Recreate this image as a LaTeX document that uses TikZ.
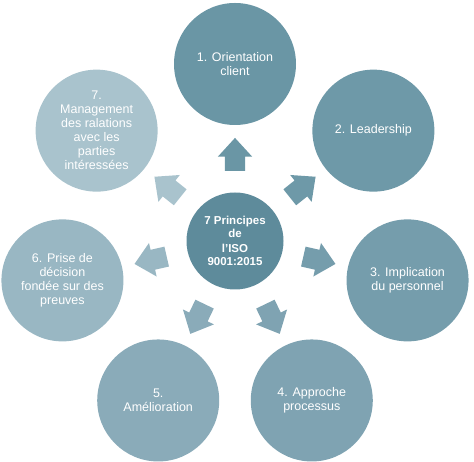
\documentclass[tikz,border=0pt]{standalone}
\usepackage{fontspec}
\setmainfont{Liberation Sans}
\usetikzlibrary{shapes.arrows}
\definecolor{c0}{HTML}{5E8B9B}
\definecolor{c1}{HTML}{6A96A5}
\definecolor{c2}{HTML}{6E99A8}
\definecolor{c3}{HTML}{759DAC}
\definecolor{c4}{HTML}{7FA3B2}
\definecolor{c5}{HTML}{8AABB9}
\definecolor{c6}{HTML}{99B7C3}
\definecolor{c7}{HTML}{A9C3CD}
\begin{document}
\begin{tikzpicture}[x=1pt,y=1pt,
  principle/.style={circle, minimum size=122pt, inner sep=0pt, text=white, align=center,
    font=\fontsize{12.5}{14}\selectfont},
  hub/.style={circle, minimum size=97pt, inner sep=0pt, fill=c0, text=white, align=center,
    font=\bfseries\fontsize{11.5}{13}\selectfont},
  blockarrow/.style={single arrow, minimum height=33pt, inner xsep=0pt, inner ysep=10pt,
    single arrow head extend=7pt, single arrow tip angle=85}
]
\useasboundingbox (0,0) rectangle (474,462);
\begin{scope}[shift={(235,221)}]
\node[hub] (hub) at (0,0) {7 Principes\\de\\[2pt]l'ISO\\9001:2015};
\node[principle, fill=c1] (p1) at (90:177) {1. Orientation\\client};
\node[principle, fill=c2] (p2) at (38.57:177) {2. Leadership};
\node[principle, fill=c3] (p3) at (-12.86:177) {3. Implication\\du personnel};
\node[principle, fill=c4] (p4) at (-64.29:177) {4. Approche\\processus};
\node[principle, fill=c5] (p5) at (-115.71:177) {5.\\Amélioration};
\node[principle, fill=c6] (p6) at (-167.14:177) {6. Prise de\\décision\\fondée sur des\\preuves};
\node[principle, fill=c7] (p7) at (141.43:177) {7.\\Management\\des ralations\\avec les\\parties\\intéressées};
\node[blockarrow, fill=c1, rotate=90] (a1) at (90:81) {};
\node[blockarrow, fill=c2, rotate=38.57] (a2) at (38.57:81) {};
\node[blockarrow, fill=c3, rotate=-12.86] (a3) at (-12.86:81) {};
\node[blockarrow, fill=c4, rotate=-64.29] (a4) at (-64.29:81) {};
\node[blockarrow, fill=c5, rotate=-115.71] (a5) at (-115.71:81) {};
\node[blockarrow, fill=c6, rotate=-167.14] (a6) at (-167.14:81) {};
\node[blockarrow, fill=c7, rotate=141.43] (a7) at (141.43:81) {};
\end{scope}
\end{tikzpicture}
\end{document}
